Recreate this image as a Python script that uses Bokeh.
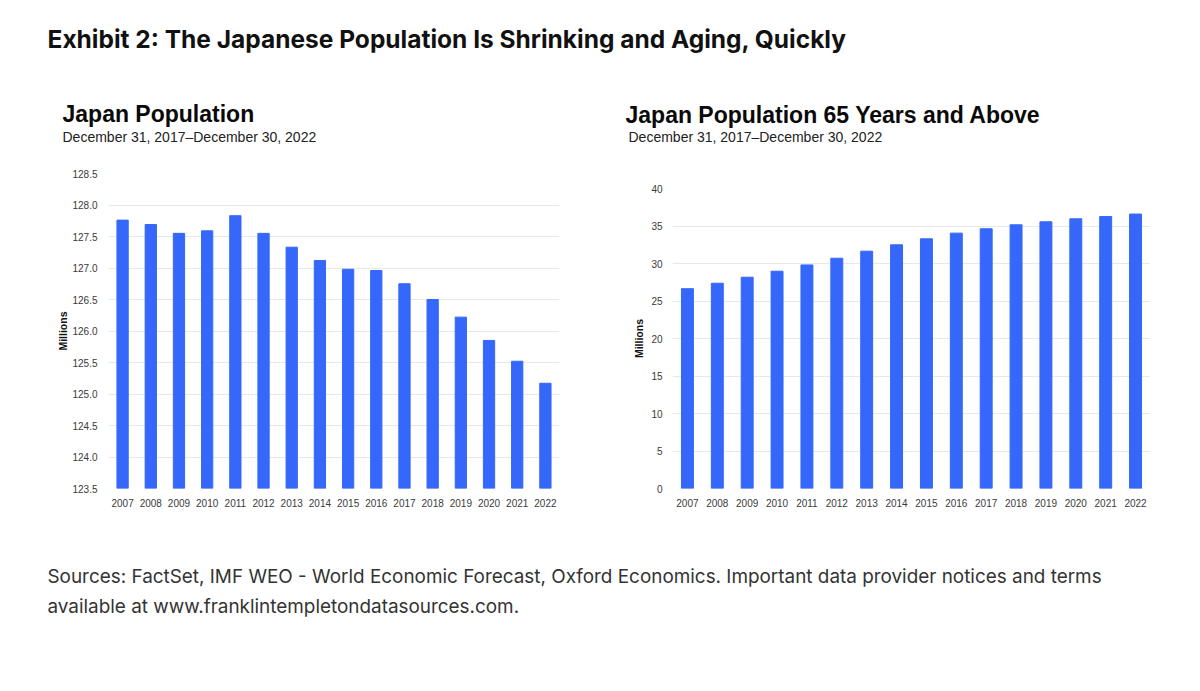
from bokeh.plotting import figure
from bokeh.layouts import column, row
from bokeh.models import Label, Range1d, FactorRange, FixedTicker, NumeralTickFormatter, Spacer
from bokeh.embed import file_html
from bokeh.resources import INLINE

years = [str(y) for y in range(2007, 2023)]
population = [127.76, 127.69, 127.55, 127.59, 127.83, 127.55, 127.33, 127.12,
              126.98, 126.96, 126.75, 126.50, 126.22, 125.85, 125.52, 125.17]
population_65 = [26.64, 27.37, 28.17, 28.97, 29.81, 30.70, 31.64, 32.49,
                 33.29, 34.05, 34.63, 35.16, 35.56, 35.96, 36.27, 36.59]
left_ticks = [123.5, 124.0, 124.5, 125.0, 125.5, 126.0, 126.5, 127.0, 127.5, 128.0, 128.5]
right_ticks = [0, 5, 10, 15, 20, 25, 30, 35, 40]

exhibit_title = "Exhibit 2: The Japanese Population Is Shrinking and Aging, Quickly"
left_title = "Japan Population"
right_title = "Japan Population 65 Years and Above"
subtitle = "December 31, 2017\u2013December 30, 2022"
sources_1 = "Sources: FactSet, IMF WEO - World Economic Forecast, Oxford Economics. Important data provider notices and terms"
sources_2 = "available at www.franklintempletondatasources.com."

BAR = "#3567fa"
GRID = "#e8e8e8"
TICK_COLOR = "#3a3a3a"
CHART_FONT = "Liberation Sans"
PAGE_FONT = "Inter"


def text_fig(w, h):
    f = figure(width=w, height=h, x_range=Range1d(0, w), y_range=Range1d(h, 0),
               output_backend="svg", toolbar_location=None, title=None,
               min_border=0, min_border_left=0, min_border_right=0,
               min_border_top=0, min_border_bottom=0)
    f.axis.visible = False
    f.grid.visible = False
    f.outline_line_color = None
    return f


header = text_fig(1192, 145)
header.add_layout(Label(x=47, y=38, text=exhibit_title, text_font=PAGE_FONT,
                        text_font_style="bold", text_font_size="24.5px",
                        text_color="#111111", text_baseline="middle"))
header.add_layout(Label(x=62, y=113, text=left_title, text_font=CHART_FONT,
                        text_font_style="bold", text_font_size="23px",
                        text_color="#0a0a0a", text_baseline="middle"))
header.add_layout(Label(x=62, y=136, text=subtitle, text_font=CHART_FONT,
                        text_font_size="14px", text_color="#222222",
                        text_baseline="middle"))
header.add_layout(Label(x=625, y=114, text=right_title, text_font=CHART_FONT,
                        text_font_style="bold", text_font_size="23px",
                        text_color="#0a0a0a", text_baseline="middle"))
header.add_layout(Label(x=628, y=136, text=subtitle, text_font=CHART_FONT,
                        text_font_size="14px", text_color="#222222",
                        text_baseline="middle"))


def bar_fig(w, h, values, y_start, y_end, ticks, fmt, borders, label_standoff, tick_standoff):
    left, right, top, bottom = borders
    f = figure(width=w, height=h, x_range=FactorRange(factors=years, range_padding=0),
               y_range=Range1d(y_start, y_end), output_backend="svg", title=None,
               toolbar_location=None, min_border_left=left, min_border_right=right,
               min_border_top=top, min_border_bottom=bottom)
    f.vbar(x=years, top=values, bottom=y_start, width=0.4, fill_color=BAR,
           line_color=BAR)
    f.outline_line_color = None
    f.xgrid.grid_line_color = None
    f.ygrid.grid_line_color = GRID
    f.ygrid.grid_line_width = 1
    f.yaxis.ticker = FixedTicker(ticks=ticks)
    f.yaxis.formatter = NumeralTickFormatter(format=fmt)
    f.axis.axis_line_color = None
    f.axis.major_tick_line_color = None
    f.axis.minor_tick_line_color = None
    f.axis.major_label_text_font = CHART_FONT
    f.axis.major_label_text_font_size = "10px"
    f.axis.major_label_text_color = TICK_COLOR
    f.xaxis.major_label_standoff = 4
    f.yaxis.major_label_standoff = tick_standoff
    f.yaxis.axis_label = "Millions"
    f.yaxis.axis_label_text_font = CHART_FONT
    f.yaxis.axis_label_text_font_style = "bold"
    f.yaxis.axis_label_text_font_size = "10.5px"
    f.yaxis.axis_label_text_color = "#111111"
    f.yaxis.axis_label_standoff = label_standoff
    return f


left_fig = bar_fig(592, 375, population, 123.5, 128.5, left_ticks, "0.0",
                   (108, 33, 28, 32), 0, 5)
right_fig = bar_fig(600, 360, population_65, 0, 40, right_ticks, "0",
                    (80, 42, 28, 32), 3, 4)

footer = text_fig(1192, 140)
footer.add_layout(Label(x=47, y=56, text=sources_1, text_font=PAGE_FONT,
                        text_font_size="18.9px", text_color="#333333",
                        text_baseline="middle"))
footer.add_layout(Label(x=47, y=86, text=sources_2, text_font=PAGE_FONT,
                        text_font_size="18.9px", text_color="#333333",
                        text_baseline="middle"))

layout = column(header,
                row(left_fig, column(Spacer(width=600, height=15), right_fig, spacing=0), spacing=0),
                footer, spacing=0)

open("out.html", "w").write(file_html(layout, INLINE))
